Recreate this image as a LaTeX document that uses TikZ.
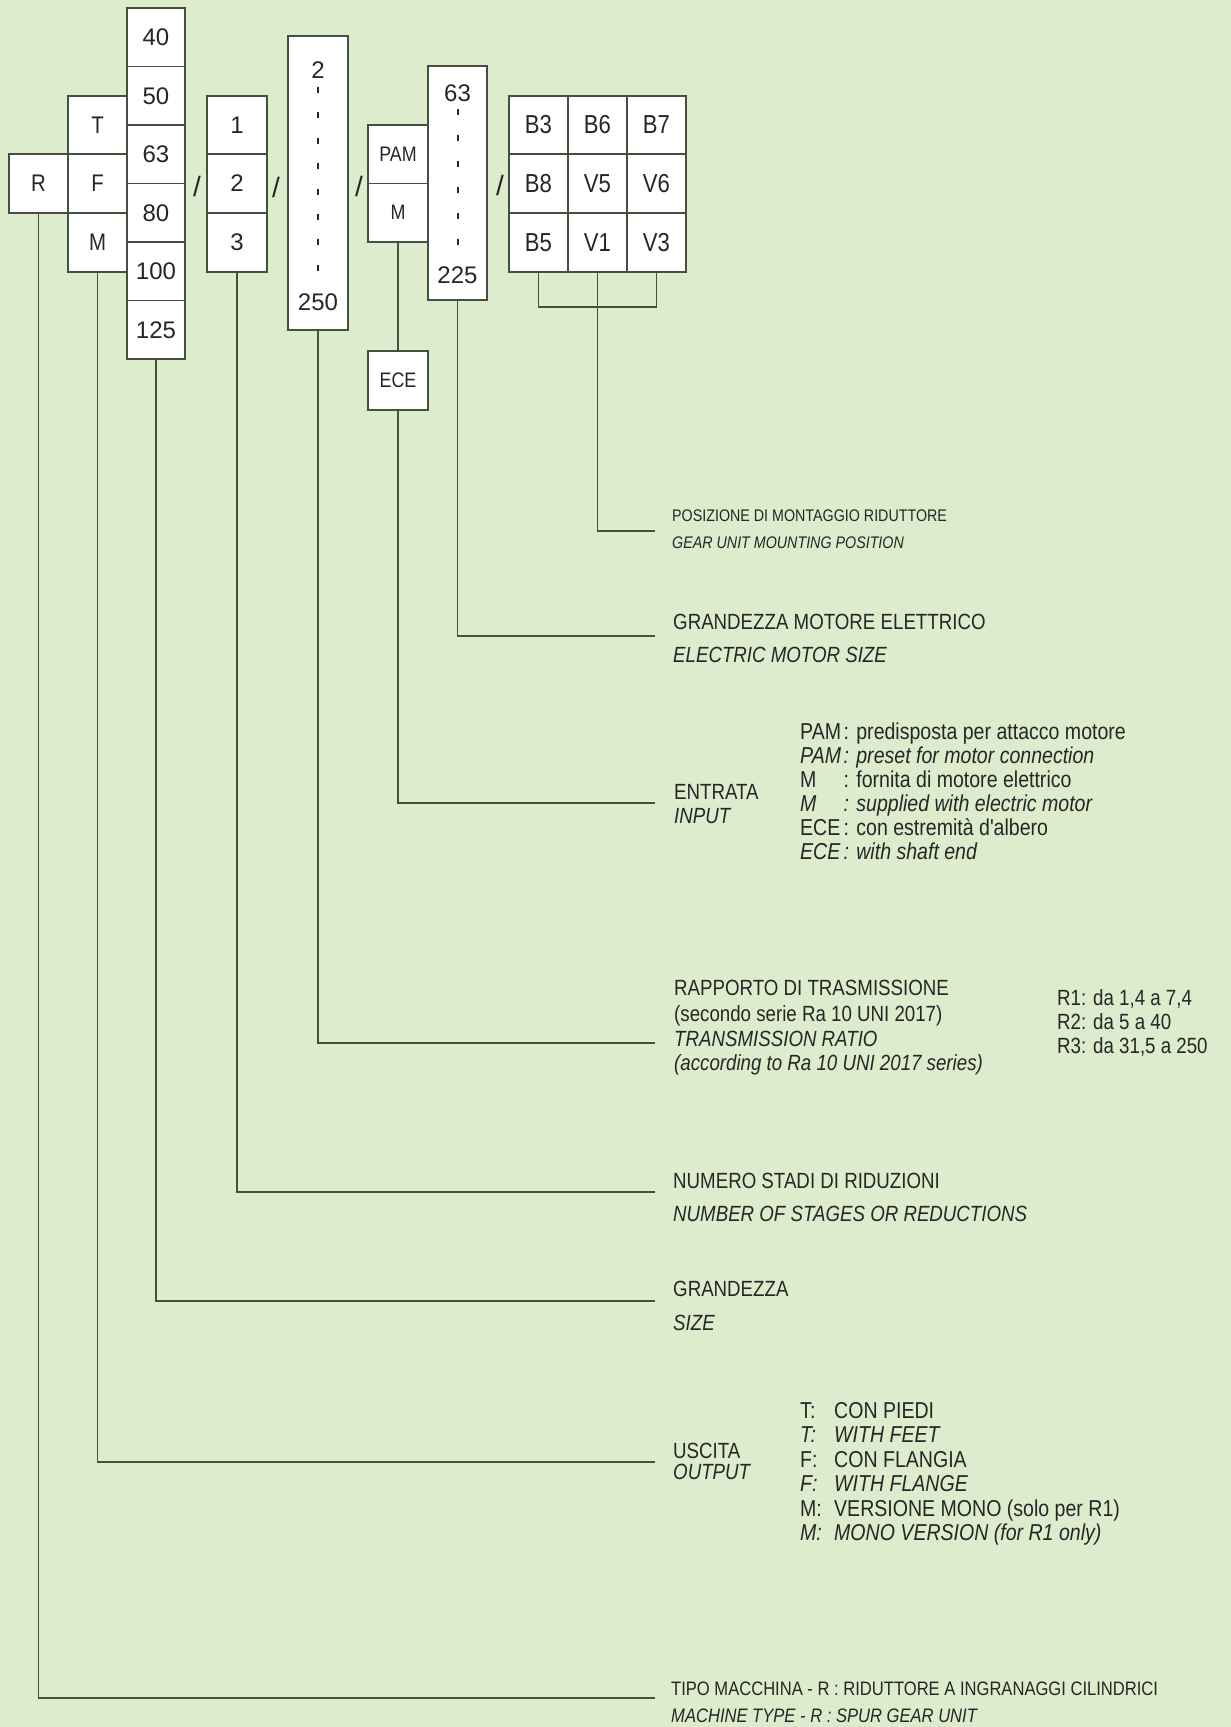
\documentclass[tikz,border=0pt]{standalone}
\usepackage{fontspec}
\setmainfont{Liberation Sans}
\newfontfamily\condfont[FakeStretch=0.85]{Liberation Sans}
\newfontfamily\cellfont{Liberation Sans}
\newfontfamily\gridfont[FakeStretch=0.85]{Liberation Sans}
\newfontfamily\pamfont[FakeStretch=0.85]{Liberation Sans}
\definecolor{bgc}{HTML}{DDECCD}
\definecolor{linec}{HTML}{46503F}
\definecolor{txtc}{HTML}{262626}
\begin{document}
\begin{tikzpicture}[x=1pt,y=-1pt,
  cell/.style={draw=linec, line width=1.6pt, fill=white, inner sep=0pt, minimum width=59pt, minimum height=58.5pt, text=txtc, font=\cellfont\fontsize{24}{24}\selectfont},
  lcell/.style={cell, font=\pamfont\fontsize{24}{24}\selectfont},
  gcell/.style={cell, font=\gridfont\fontsize{26}{26}\selectfont},
  pcell/.style={cell, minimum width=60pt, font=\pamfont\fontsize{21}{21}\selectfont},
  celltxt/.style={inner sep=0pt, text=txtc, font=\cellfont\fontsize{24}{24}\selectfont},
  lbl/.style={anchor=base west, inner sep=0pt, text=txtc, font=\condfont\fontsize{22}{24}\selectfont},
  lbli/.style={lbl, font=\condfont\itshape\fontsize{22}{24}\selectfont},
  slbl/.style={lbl, font=\condfont\fontsize{16.8}{18}\selectfont},
  slbli/.style={lbl, font=\condfont\itshape\fontsize{16.8}{18}\selectfont},
  tlbl/.style={lbl, font=\condfont\fontsize{19.5}{20}\selectfont},
  tlbli/.style={lbl, font=\condfont\itshape\fontsize{19.5}{20}\selectfont},
  lead/.style={draw=linec, line width=1.4pt},
  slash/.style={text=txtc, inner sep=0pt, font=\cellfont\fontsize{28}{28}\selectfont},
  ticks/.style={draw=txtc, line width=2pt, dash pattern=on 6pt off 19.4pt}
]
\fill[bgc] (0,0) rectangle (1231,1727);
\useasboundingbox (0,0) rectangle (1231,1727);

% R
\node[lcell] (R) at (38.5,183.5) {R};
% T F M
\node[lcell] (fT) at (97.5,125) {T};
\node[lcell] (fF) at (97.5,183.5) {F};
\node[lcell] (fM) at (97.5,242.5) {M};
% sizes
\node[cell, minimum width=58pt] (s40) at (156,37.25) {40};
\node[cell, minimum width=58pt] (s50) at (156,95.75) {50};
\node[cell, minimum width=58pt] (s63) at (156,154.25) {63};
\node[cell, minimum width=58pt] (s80) at (156,212.75) {80};
\node[cell, minimum width=58pt] (s100) at (156,271.25) {100};
\node[cell, minimum width=58pt] (s125) at (156,329.75) {125};
\node[slash] (sl1) at (197,186) {/};
% stages
\node[cell, minimum width=60pt] (st1) at (237,125) {1};
\node[cell, minimum width=60pt] (st2) at (237,183.5) {2};
\node[cell, minimum width=60pt] (st3) at (237,242.5) {3};
\node[slash] (sl2) at (276,187) {/};
% ratio
\node[cell, minimum width=60pt, minimum height=294pt] (ratio) at (318,183) {};
\node[celltxt] (r2) at (318,70) {2};
\node[celltxt] (r250) at (318,302) {250};
\draw[ticks] (318,87) -- (318,271);
\node[slash] (sl3) at (359,186) {/};
% input
\node[pcell] (pPAM) at (398,154.25) {PAM};
\node[pcell] (pM) at (398,212.75) {M};
\node[pcell, minimum height=59pt] (ece) at (398,380.5) {ECE};
% motor
\node[cell, minimum height=234pt] (mot) at (457.5,183) {};
\node[celltxt] (m63) at (457.5,93) {63};
\node[celltxt] (m225) at (457.5,275) {225};
\draw[ticks, dash pattern=on 6pt off 20pt] (457.5,109) -- (457.5,245);
\node[slash] (sl4) at (500,185) {/};
% grid
\node[gcell] (g11) at (538.5,125) {B3};
\node[gcell] (g12) at (597.5,125) {B6};
\node[gcell] (g13) at (656.5,125) {B7};
\node[gcell] (g21) at (538.5,183.5) {B8};
\node[gcell] (g22) at (597.5,183.5) {V5};
\node[gcell] (g23) at (656.5,183.5) {V6};
\node[gcell] (g31) at (538.5,242.5) {B5};
\node[gcell] (g32) at (597.5,242.5) {V1};
\node[gcell] (g33) at (656.5,242.5) {V3};

% leader end points
\coordinate (brk) at (597.5,307);
\coordinate (cPos) at (655,531);
\coordinate (cMot) at (655,636);
\coordinate (cEnt) at (655,803);
\coordinate (cRap) at (655,1043);
\coordinate (cNum) at (655,1192);
\coordinate (cGra) at (655,1301);
\coordinate (cUsc) at (655,1462);
\coordinate (cTip) at (655,1698);

\draw[lead] (g31.south) |- (brk) -| (g33.south);
\draw[lead] (g32.south) -- (brk) |- (cPos);
\draw[lead] (mot.south) |- (cMot);
\draw[lead] (pM.south) -- (ece.north);
\draw[lead] (ece.south) |- (cEnt);
\draw[lead] (ratio.south) |- (cRap);
\draw[lead] (st3.south) |- (cNum);
\draw[lead] (s125.south) |- (cGra);
\draw[lead] (fM.south) |- (cUsc);
\draw[lead] (R.south) |- (cTip);

% labels
\node[slbl] (posIt) at (672,521) {POSIZIONE DI MONTAGGIO RIDUTTORE};
\node[slbli] (posEn) at (672,548) {GEAR UNIT MOUNTING POSITION};

\node[lbl] (motIt) at (673,629) {GRANDEZZA MOTORE ELETTRICO};
\node[lbli] (motEn) at (673,662) {ELECTRIC MOTOR SIZE};

\node[lbl] (entIt) at (674,799) {ENTRATA};
\node[lbli] (entEn) at (674,823) {INPUT};
\node[lbl, font=\condfont\fontsize{23}{24}\selectfont] (entList) at (800,739) {%
\begin{tabular}[t]{@{}p{43.5pt}@{}l@{}}
PAM & : predisposta per attacco motore\\
\itshape PAM & \itshape : preset for motor connection\\
M & : fornita di motore elettrico\\
\itshape M & \itshape : supplied with electric motor\\
ECE & : con estremità d'albero\\
\itshape ECE & \itshape : with shaft end
\end{tabular}};

\node[lbl] (rapIt) at (674,995) {RAPPORTO DI TRASMISSIONE};
\node[lbl] (rapIt2) at (674,1021) {(secondo serie Ra 10 UNI 2017)};
\node[lbli] (rapEn) at (674,1046) {TRANSMISSION RATIO};
\node[lbli] (rapEn2) at (674,1070) {(according to Ra 10 UNI 2017 series)};
\node[lbl, font=\condfont\fontsize{22}{24}\selectfont] (rList) at (1057,1005) {%
\begin{tabular}[t]{@{}l@{}}
R1: da 1,4 a 7,4\\
R2: da 5 a 40\\
R3: da 31,5 a 250
\end{tabular}};

\node[lbl] (numIt) at (673,1188) {NUMERO STADI DI RIDUZIONI};
\node[lbli] (numEn) at (673,1221) {NUMBER OF STAGES OR REDUCTIONS};

\node[lbl] (graIt) at (673,1296) {GRANDEZZA};
\node[lbli] (graEn) at (673,1330) {SIZE};

\node[lbl] (uscIt) at (673,1458) {USCITA};
\node[lbli] (uscEn) at (673,1479) {OUTPUT};
\node[lbl, font=\condfont\fontsize{23}{24.5}\selectfont] (uList) at (800,1418) {%
\begin{tabular}[t]{@{}p{34pt}@{}l@{}}
T: & CON PIEDI\\
\itshape T: & \itshape WITH FEET\\
F: & CON FLANGIA\\
\itshape F: & \itshape WITH FLANGE\\
M: & VERSIONE MONO (solo per R1)\\
\itshape M: & \itshape MONO VERSION (for R1 only)
\end{tabular}};

\node[tlbl] (tipIt) at (671,1695) {TIPO MACCHINA - R : RIDUTTORE A INGRANAGGI CILINDRICI};
\node[tlbli] (tipEn) at (671,1722) {MACHINE TYPE - R : SPUR GEAR UNIT};
\end{tikzpicture}
\end{document}
